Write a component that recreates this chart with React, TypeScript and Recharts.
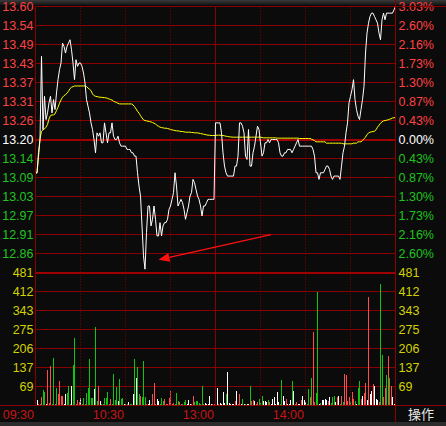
import React from 'react';
import { LineChart, Line, BarChart, Bar, Cell, XAxis, YAxis, CartesianGrid, ReferenceLine } from 'recharts';

const prevClose = 13.2;
const minuteIndex: number[] = Array.from({ length: 241 }, (_, i) => i);
const timeTicks = [0, 60, 120, 180];
const timeLabels = ['09:30', '10:30', '13:00', '14:00'];
const quarterLines = [30, 60, 90, 150, 180, 210];
const noonLine = 120;

const priceTicks = [13.6, 13.542857, 13.485714, 13.428571, 13.371429, 13.314286, 13.257143, 13.2,
  13.142857, 13.085714, 13.028571, 12.971429, 12.914286, 12.857143];
const volumeTicks = [481, 412.285714, 343.571429, 274.857143, 206.142857, 137.428571, 68.714286];
const volumeLabels = ['481', '412', '343', '275', '206', '137', '69'];

const price = [
  13.10, 13.10, 13.16, 13.20, 13.45, 13.23, 13.33, 13.26, 13.28, 13.31,
  13.33, 13.28, 13.32, 13.29, 13.34, 13.38, 13.41, 13.43, 13.49, 13.48,
  13.46, 13.48, 13.49, 13.50, 13.47, 13.43, 13.38, 13.44, 13.42, 13.43,
  13.43, 13.42, 13.40, 13.37, 13.32, 13.30, 13.28, 13.25, 13.23, 13.20,
  13.16, 13.22, 13.21, 13.22, 13.19, 13.19, 13.25, 13.22, 13.19, 13.22,
  13.22, 13.25, 13.21, 13.20, 13.20, 13.21, 13.19, 13.18, 13.18, 13.18,
  13.18, 13.17, 13.17, 13.17, 13.16, 13.16, 13.15, 13.15, 13.10, 13.06,
  13.03, 12.94, 12.85, 12.81, 12.92, 13.00, 13.00, 12.94, 12.96, 13.00,
  12.96, 12.91, 12.91, 12.95, 12.91, 12.94, 12.95, 12.95, 12.96, 12.99,
  13.00, 13.02, 13.04, 13.10, 13.06, 13.00, 13.01, 13.02, 13.01, 12.99,
  12.96, 12.98, 13.00, 13.03, 13.04, 13.08, 13.07, 13.05, 13.03, 13.02,
  13.00, 12.97, 13.00, 13.00, 13.01, 13.02, 13.02, 13.02, 13.02, 13.02,
  13.25, 13.25, 13.25, 13.25, 13.22, 13.16, 13.12, 13.10, 13.09, 13.09,
  13.09, 13.09, 13.09, 13.12, 13.12, 13.15, 13.25, 13.25, 13.24, 13.22,
  13.15, 13.14, 13.23, 13.12, 13.12, 13.16, 13.18, 13.21, 13.24, 13.23,
  13.19, 13.15, 13.16, 13.19, 13.19, 13.20, 13.19, 13.20, 13.20, 13.20,
  13.20, 13.20, 13.19, 13.16, 13.15, 13.15, 13.16, 13.16, 13.17, 13.17,
  13.17, 13.16, 13.17, 13.18, 13.19, 13.20, 13.18, 13.18, 13.18, 13.18,
  13.18, 13.18, 13.18, 13.18, 13.18, 13.17, 13.15, 13.10, 13.10, 13.08,
  13.10, 13.10, 13.10, 13.11, 13.12, 13.12, 13.11, 13.09, 13.08, 13.09,
  13.09, 13.09, 13.09, 13.08, 13.12, 13.16, 13.18, 13.22, 13.25, 13.31,
  13.33, 13.35, 13.38, 13.32, 13.29, 13.27, 13.26, 13.29, 13.32, 13.36,
  13.46, 13.52, 13.55, 13.57, 13.58, 13.58, 13.57, 13.56, 13.55, 13.52,
  13.50, 13.56, 13.58, 13.56, 13.58, 13.58, 13.58, 13.58, 13.58, 13.59,
  13.60,
];

const avgPrice = [
  13.099, 13.099, 13.147, 13.202, 13.225, 13.229, 13.232, 13.237, 13.245, 13.262,
  13.272, 13.274, 13.274, 13.277, 13.287, 13.297, 13.309, 13.319, 13.327, 13.332,
  13.335, 13.339, 13.345, 13.353, 13.357, 13.359, 13.361, 13.361, 13.361, 13.361,
  13.361, 13.361, 13.361, 13.361, 13.359, 13.355, 13.351, 13.347, 13.337, 13.332,
  13.330, 13.329, 13.328, 13.327, 13.327, 13.326, 13.326, 13.325, 13.324, 13.322,
  13.320, 13.319, 13.315, 13.313, 13.311, 13.309, 13.307, 13.307, 13.307, 13.307,
  13.307, 13.307, 13.307, 13.307, 13.307, 13.304, 13.299, 13.292, 13.285, 13.279,
  13.272, 13.265, 13.259, 13.257, 13.256, 13.255, 13.254, 13.253, 13.251, 13.249,
  13.247, 13.242, 13.240, 13.237, 13.236, 13.235, 13.234, 13.234, 13.233, 13.232,
  13.230, 13.229, 13.228, 13.227, 13.226, 13.226, 13.225, 13.224, 13.224, 13.223,
  13.222, 13.222, 13.222, 13.222, 13.221, 13.221, 13.220, 13.220, 13.220, 13.219,
  13.218, 13.217, 13.216, 13.215, 13.214, 13.213, 13.213, 13.212, 13.212, 13.212,
  13.212, 13.213, 13.213, 13.213, 13.212, 13.212, 13.211, 13.210, 13.209, 13.208,
  13.208, 13.207, 13.207, 13.207, 13.207, 13.207, 13.207, 13.207, 13.207, 13.207,
  13.207, 13.207, 13.207, 13.207, 13.207, 13.207, 13.207, 13.207, 13.207, 13.207,
  13.207, 13.206, 13.205, 13.205, 13.205, 13.205, 13.205, 13.205, 13.205, 13.205,
  13.205, 13.204, 13.204, 13.204, 13.204, 13.204, 13.204, 13.204, 13.204, 13.204,
  13.204, 13.204, 13.204, 13.204, 13.204, 13.204, 13.203, 13.203, 13.203, 13.203,
  13.203, 13.203, 13.203, 13.203, 13.201, 13.199, 13.197, 13.193, 13.193, 13.193,
  13.193, 13.193, 13.193, 13.193, 13.189, 13.189, 13.189, 13.189, 13.189, 13.189,
  13.189, 13.189, 13.189, 13.189, 13.189, 13.187, 13.187, 13.187, 13.187, 13.187,
  13.187, 13.187, 13.189, 13.189, 13.189, 13.193, 13.193, 13.193, 13.197, 13.202,
  13.207, 13.215, 13.219, 13.222, 13.223, 13.224, 13.225, 13.229, 13.237, 13.243,
  13.249, 13.253, 13.256, 13.257, 13.258, 13.259, 13.261, 13.262, 13.265, 13.265,
  13.267,
];

const volume = [
  33, 20, 6, 4, 30, 55, 48, 5, 127, 8,
  142, 6, 170, 4, 62, 40, 87, 36, 34, 5,
  40, 44, 72, 5, 70, 148, 243, 5, 20, 14,
  27, 4, 27, 6, 47, 65, 167, 27, 27, 59,
  284, 15, 70, 15, 6, 5, 27, 27, 50, 6,
  23, 5, 115, 20, 66, 18, 97, 22, 27, 6,
  4, 4, 12, 4, 6, 40, 167, 98, 140, 40,
  36, 30, 160, 30, 5, 6, 20, 6, 40, 80,
  6, 25, 18, 5, 26, 18, 25, 6, 4, 26,
  52, 6, 8, 4, 47, 15, 12, 6, 4, 12,
  20, 5, 20, 6, 5, 35, 12, 15, 16, 10,
  5, 72, 4, 10, 5, 4, 36, 4, 4, 5,
  30, 62, 6, 10, 5, 50, 10, 42, 120, 10,
  4, 4, 4, 16, 54, 6, 42, 4, 25, 6,
  4, 4, 4, 70, 16, 20, 16, 6, 12, 22,
  8, 36, 16, 16, 12, 20, 12, 6, 25, 30,
  6, 50, 12, 6, 94, 36, 16, 22, 6, 5,
  20, 87, 54, 4, 14, 4, 6, 20, 36, 20,
  12, 5, 58, 30, 98, 266, 12, 45, 412, 6,
  8, 20, 20, 25, 20, 16, 30, 10, 30, 36,
  14, 32, 36, 4, 33, 12, 113, 110, 16, 30,
  14, 50, 25, 16, 6, 62, 87, 25, 36, 47,
  80, 20, 393, 40, 54, 77, 70, 25, 20, 12,
  441, 182, 30, 62, 109, 178, 98, 70, 30, 6,
  182,
];

// r = up tick (red), g = down tick (green), w = unchanged (white)
const volumeDir =
  'gwrgrggwrr' + 'rggrgrrrrw' + 'wgggwggrrr' + 'wrgggggggw' + 'ggrwgggggr' +
  'rggggwgggw' + 'wgwggwgwgg' + 'rgggrwwgrr' + 'rwwgggrrrr' + 'rrrgggrrgg' +
  'gwwwrrgggg' + 'ggrwwwwwrr' + 'rwrwwwwgww' + 'wwwrwrrwgw' + 'gwwgrrwrrg' +
  'ggwwwgrwww' + 'wwwggwwrww' + 'wgwrrwwrww' + 'wggrgrrggw' + 'gwwwwrwggg' +
  'wrwgrgrrrr' + 'grrgwggrwr' + 'rwrwwrwwwr' + 'ggrrgrgrww' + 'w';

const arrowStart = { i: 157, p: 12.914 };
const arrowTip = { i: 82, p: 12.838 };

const BG = '#0b0b0b';
const GRID = '#8a0000';
const THICK = '#a00000';
const RED_TXT = '#ff4242';
const GREEN_TXT = '#1fc41f';
const YELLOW_TXT = '#d2d200';
const TIME_TXT = '#c81414';
const BAR_COLORS: Record<string, string> = { r: '#ff4c4c', g: '#12c412', w: '#ffffff' };
const FONT = "'Liberation Sans', Arial, sans-serif";
const FS = 12.5;

const priceData = minuteIndex.map((i) => ({ i, price: price[i], avg: avgPrice[i] }));
const volData = minuteIndex.map((i) => ({ i, vol: volume[i], dir: volumeDir[i] }));

const tickColor = (v: number) =>
  Math.abs(v - prevClose) < 1e-6 ? '#ffffff' : v > prevClose ? RED_TXT : GREEN_TXT;

const LeftPriceTick = (props: any) => {
  const { y, payload } = props;
  return (
    <text x={33.5} y={y + 4.5} textAnchor="end" fill={tickColor(payload.value)} fontSize={FS} fontFamily={FONT}>
      {payload.value.toFixed(2)}
    </text>
  );
};

const RightPctTick = (props: any) => {
  const { y, payload } = props;
  const pct = (Math.abs(payload.value - prevClose) / prevClose) * 100;
  return (
    <text x={398.5} y={y + 4.5} textAnchor="start" fill={tickColor(payload.value)} fontSize={FS} fontFamily={FONT}>
      {pct.toFixed(2) + '%'}
    </text>
  );
};

const volLabel = (v: number) => {
  const k = volumeTicks.findIndex((t) => Math.abs(t - v) < 1e-3);
  return k >= 0 ? volumeLabels[k] : '';
};

const LeftVolTick = (props: any) => {
  const { y, payload } = props;
  return (
    <text x={33.5} y={y + 4.5} textAnchor="end" fill={YELLOW_TXT} fontSize={FS} fontFamily={FONT}>
      {volLabel(payload.value)}
    </text>
  );
};

const RightVolTick = (props: any) => {
  const { y, payload } = props;
  return (
    <text x={398.5} y={y + 4.5} textAnchor="start" fill={YELLOW_TXT} fontSize={FS} fontFamily={FONT}>
      {volLabel(payload.value)}
    </text>
  );
};

const TimeTick = (props: any) => {
  const { x, payload } = props;
  const k = timeTicks.indexOf(payload.value);
  // the axis band starts at the bottom of the plot (chart-local y = 139.5)
  return (
    <text x={x - 1.5} y={152.5} textAnchor="end" fill={TIME_TXT} fontSize={FS} fontFamily={FONT}>
      {k >= 0 ? timeLabels[k] : ''}
    </text>
  );
};

const ThickLine = (p: any) => (
  <line x1={p.x1} x2={p.x2} y1={p.y1 + 0.5} y2={p.y2 + 0.5} stroke={THICK} strokeWidth={2} />
);

const ArrowShape = (p: any) => {
  const { x1, y1, x2, y2 } = p;
  if ([x1, y1, x2, y2].some((v) => typeof v !== 'number' || isNaN(v))) return <g />;
  const dx = x2 - x1;
  const dy = y2 - y1;
  const len = Math.hypot(dx, dy) || 1;
  const ux = dx / len;
  const uy = dy / len;
  const hl = 11;
  const hw = 4.5;
  const bx = x2 - ux * hl;
  const by = y2 - uy * hl;
  return (
    <g>
      <line x1={x1} y1={y1} x2={bx} y2={by} stroke="#ff1010" strokeWidth={1.2} />
      <polygon
        points={`${x2},${y2} ${bx - uy * hw},${by + ux * hw} ${bx + uy * hw},${by - ux * hw}`}
        fill="#ff1010"
      />
    </g>
  );
};

const VolBar = (p: any) => {
  const { x, y, width, height, fill } = p;
  if (!height || height <= 0) return <g />;
  const cx = Math.round(x + width / 2);
  const top = Math.round(y);
  const bottom = Math.floor(y + height);
  return <rect x={cx} y={top} width={1} height={Math.max(1, bottom - top)} fill={fill} />;
};

export default function App() {
  return (
    <div style={{ position: 'absolute', left: 0, top: 0, width: 446, height: 426, background: BG, overflow: 'hidden' }}>
      <div style={{ position: 'absolute', left: 0, top: 0, width: 446, height: 5, background: 'linear-gradient(#3a3a3a, #151515)' }} />
      <div style={{ position: 'absolute', left: 0, top: 422, width: 446, height: 4, background: '#2c2c2c' }} />
      <div style={{ position: 'absolute', left: 0, top: 0 }}>
        <LineChart width={446} height={273} data={priceData} margin={{ top: 6.5, right: 0, bottom: 0.5, left: 0 }}>
          <XAxis dataKey="i" type="number" domain={[0, 240]} hide allowDataOverflow />
          <YAxis
            yAxisId="p"
            orientation="left"
            width={35.5}
            type="number"
            domain={[12.8, 13.6]}
            ticks={priceTicks}
            interval={0}
            tick={<LeftPriceTick />}
            tickLine={false}
            axisLine={{ stroke: GRID }}
            allowDataOverflow
          />
          <YAxis
            yAxisId="pct"
            orientation="right"
            width={50.5}
            type="number"
            domain={[12.8, 13.6]}
            ticks={priceTicks}
            interval={0}
            tick={<RightPctTick />}
            tickLine={false}
            axisLine={{ stroke: GRID }}
            allowDataOverflow
          />
          <CartesianGrid yAxisId="p" vertical={false} stroke={GRID} />
          {quarterLines.map((q) => (
            <ReferenceLine key={q} yAxisId="p" x={q} stroke={GRID} strokeDasharray="1 2" />
          ))}
          <ReferenceLine yAxisId="p" x={noonLine} stroke={GRID} />
          <ReferenceLine yAxisId="p" y={prevClose} shape={ThickLine} />
          <Line yAxisId="p" dataKey="avg" stroke="#ffff00" strokeWidth={1} dot={false} isAnimationActive={false} />
          <Line yAxisId="p" dataKey="price" stroke="#ffffff" strokeWidth={1} dot={false} isAnimationActive={false} />
          <ReferenceLine
            yAxisId="p"
            segment={[{ x: arrowStart.i, y: arrowStart.p }, { x: arrowTip.i, y: arrowTip.p }]}
            shape={ArrowShape}
          />
        </LineChart>
      </div>
      <div style={{ position: 'absolute', left: 0, top: 266 }}>
        <BarChart width={446} height={160} data={volData} margin={{ top: 6.5, right: 0, bottom: 0, left: 0 }}>
          <XAxis
            dataKey="i"
            type="number"
            domain={[0, 240]}
            ticks={timeTicks}
            interval={0}
            height={20.5}
            tick={<TimeTick />}
            tickLine={false}
            axisLine={false}
            allowDataOverflow
          />
          <YAxis
            yAxisId="v"
            orientation="left"
            width={35.5}
            type="number"
            domain={[0, 481]}
            ticks={volumeTicks}
            interval={0}
            tick={<LeftVolTick />}
            tickLine={false}
            axisLine={{ stroke: GRID }}
            allowDataOverflow
          />
          <YAxis
            yAxisId="v2"
            orientation="right"
            width={50.5}
            type="number"
            domain={[0, 481]}
            ticks={volumeTicks}
            interval={0}
            tick={<RightVolTick />}
            tickLine={false}
            axisLine={{ stroke: GRID }}
            allowDataOverflow
          />
          <CartesianGrid yAxisId="v" vertical={false} stroke={GRID} />
          {quarterLines.map((q) => (
            <ReferenceLine key={q} yAxisId="v" x={q} stroke={GRID} strokeDasharray="1 2" />
          ))}
          <ReferenceLine yAxisId="v" x={noonLine} stroke={GRID} />
          <ReferenceLine yAxisId="v" y={481} shape={ThickLine} />
          <Bar yAxisId="v" dataKey="vol" barSize={1} isAnimationActive={false} shape={VolBar}>
            {volData.map((d) => (
              <Cell key={d.i} fill={BAR_COLORS[d.dir] || '#ffffff'} />
            ))}
          </Bar>
        </BarChart>
      </div>
      <div style={{ position: 'absolute', left: 395, top: 6, width: 51, height: 1, background: GRID }} />
      <div style={{ position: 'absolute', left: 0, top: 405, width: 446, height: 1, background: GRID }} />
      <div style={{ position: 'absolute', left: 395, top: 0, width: 1, height: 422, background: GRID }} />
      <div
        style={{
          position: 'absolute', left: 396, top: 406, width: 50, height: 16, color: '#e8e8e8',
          fontFamily: "'Noto Sans CJK SC', sans-serif", fontSize: 13, lineHeight: '16px', textAlign: 'center',
        }}
      >
        操作
      </div>
    </div>
  );
}
